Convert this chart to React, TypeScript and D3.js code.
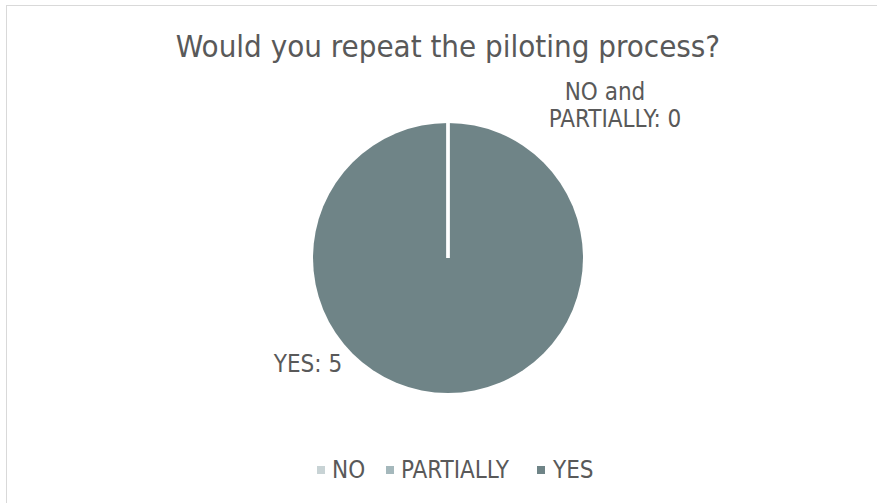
import React from "react";
import * as d3 from "d3";

const categories = ["NO", "PARTIALLY", "YES"];
const values = [0, 0, 5];
const colors = ["#c8d3d5", "#a5b8bc", "#6f8487"];
const title = "Would you repeat the piloting process?";

export default function App() {
  const W = 877, H = 503;
  const cx = 448, cy = 258, r = 135;
  const font = "'DejaVu Sans Condensed', 'DejaVu Sans', sans-serif";
  const data = categories.map((c, i) => ({ c, v: values[i], color: colors[i] }));
  const pie = d3.pie<any>().value((d) => d.v).sort(null).startAngle(0).endAngle(2 * Math.PI);
  const arcs = pie(data);
  const arc = d3.arc<any>().innerRadius(0).outerRadius(r);
  const textColor = "#595959";
  const zeroLabel = `${categories[0]} and`;
  const zeroLabel2 = `${categories[1]}: ${values[0] + values[1]}`;
  const yesLabel = `${categories[2]}: ${values[2]}`;
  const legendItems = [
    { x: 317, tx: 332 },
    { x: 386, tx: 401 },
    { x: 537, tx: 553 },
  ];
  return (
    <svg width={W} height={H} style={{ position: "absolute", left: 0, top: 0 }}>
      <rect x={0} y={0} width={W} height={H} fill="#fff" />
      <rect x={6.5} y={5.5} width={W + 10} height={H + 10} fill="#fff" stroke="#d9d9d9" strokeWidth={1} />
      <text x={448} y={57} textAnchor="middle" fontFamily={font} fontSize={31} fill={textColor}>
        {title}
      </text>
      <g transform={`translate(${cx},${cy})`}>
        {arcs.map((a, i) => (
          <path key={i} d={arc(a) || ""} fill={a.data.color} />
        ))}
        {arcs.map((a, i) => (
          <line
            key={"b" + i}
            x1={0}
            y1={0}
            x2={r * Math.sin(a.startAngle)}
            y2={-r * Math.cos(a.startAngle)}
            stroke="#fff"
            strokeWidth={3}
          />
        ))}
      </g>
      <text textAnchor="middle" fontFamily={font} fontSize={24} fill={textColor}>
        <tspan x={605} y={100}>{zeroLabel}</tspan>
        <tspan x={615} y={127}>{zeroLabel2}</tspan>
      </text>
      <text x={308} y={372} textAnchor="middle" fontFamily={font} fontSize={24} fill={textColor}>
        {yesLabel}
      </text>
      {categories.map((c, i) => (
        <g key={c}>
          <rect x={legendItems[i].x} y={466} width={8} height={8} fill={colors[i]} />
          <text x={legendItems[i].tx} y={478} fontFamily={font} fontSize={24} fill={textColor}>
            {c}
          </text>
        </g>
      ))}
    </svg>
  );
}
